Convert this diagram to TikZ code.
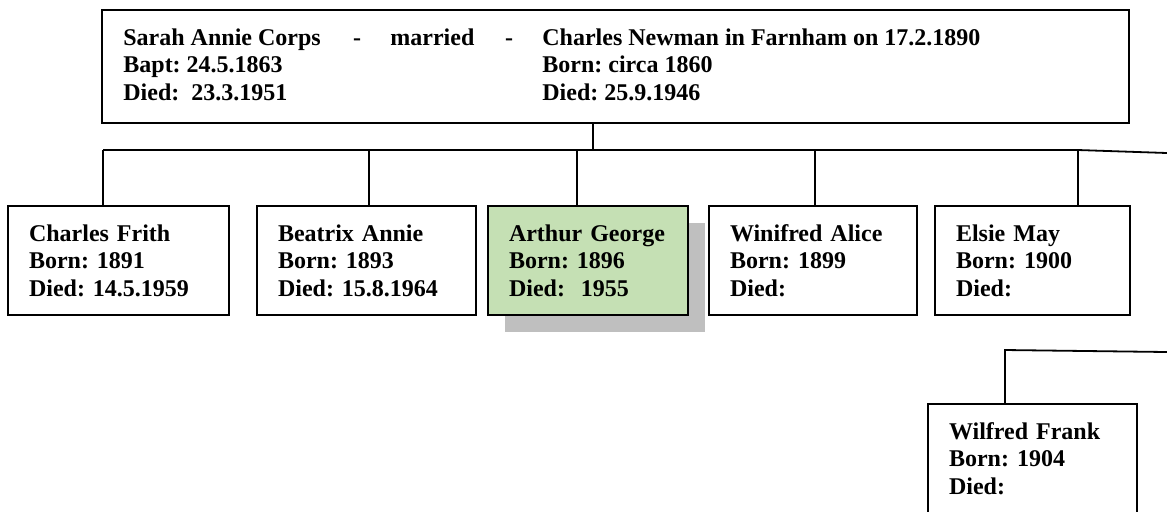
\documentclass[tikz,border=0pt]{standalone}
\usepackage{fontspec}
\setmainfont{Liberation Serif}
\frenchspacing
\definecolor{famgreen}{HTML}{C5E0B4}
\definecolor{famshadow}{HTML}{BFBFBF}
\usetikzlibrary{shadows}

\begin{document}
\begin{tikzpicture}[
  x=0.5pt, y=-0.5pt,
  txt/.style={font=\fontsize{12}{13.75}\selectfont\bfseries, inner sep=0pt},
  person/.style={draw, line width=0.9pt, outer sep=0pt, anchor=north west,
    align=left, text width=#1, inner xsep=10.5pt, inner ysep=0pt,
    minimum height=54.5pt, font=\fontsize{12}{13.75}\selectfont\bfseries},
  link/.style={line width=0.9pt}
]
  \path[use as bounding box, fill=white] (0,0) rectangle (1167,511);

  % Parents
  \node[draw, line width=0.9pt, outer sep=0pt, anchor=north west, inner sep=0pt,
    minimum width=513.5pt, minimum height=56.5pt] (parents) at (102,10) {};
  \node[txt, anchor=north west, align=left] (wife) at (123,28)
    {Sarah Annie Corps\\Bapt: 24.5.1863\\Died:\ \ 23.3.1951};
  \node[txt, anchor=base] (dashA) at (357,45) {-};
  \node[txt, anchor=base west] (married) at (390,45) {married};
  \node[txt, anchor=base] (dashB) at (509,45) {-};
  \node[txt, anchor=north west, align=left] (husband) at (542,28)
    {Charles Newman in Farnham on 17.2.1890\\Born: circa 1860\\Died: 25.9.1946};

  % Children
  \node[person=89.5pt] (charles) at (8,206)
    {Charles Frith\\Born: 1891\\Died: 14.5.1959};
  \node[person=88.5pt] (beatrix) at (257,206)
    {Beatrix Annie\\Born: 1893\\Died: 15.8.1964};
  \node[person=79pt, fill=famgreen,
    drop shadow={shadow xshift=8.25pt, shadow yshift=-8.25pt, fill=famshadow, opacity=1}]
    (arthur) at (488,206)
    {Arthur George\\Born: 1896\\Died:\ \ 1955};
  \node[person=83pt] (winifred) at (709,206)
    {Winifred Alice\\Born: 1899\\Died:};
  \node[person=76.5pt] (elsie) at (935,206)
    {Elsie May\\Born: 1900\\Died:};
  \node[person=83.5pt] (wilfred) at (928,404)
    {Wilfred Frank\\Born: 1904\\Died:};

  % Connectors
  \coordinate (fork) at (593,150);
  \coordinate (barL) at (103,150);
  \coordinate (barR) at (1078,150);
  \coordinate (offR) at (1167,153);
  \coordinate (tB) at (369,150);
  \coordinate (tA) at (577,150);
  \coordinate (tW) at (815,150);
  \coordinate (lowL) at (1005,350);
  \coordinate (offR2) at (1167,352);

  \draw[link] (parents.south -| fork) -- (fork);
  \draw[link] (barL) -- (barR) -- (offR);
  \draw[link] (barL) -- (barL |- charles.north);
  \draw[link] (tB) -- (tB |- beatrix.north);
  \draw[link] (tA) -- (tA |- arthur.north);
  \draw[link] (tW) -- (tW |- winifred.north);
  \draw[link] (barR) -- (barR |- elsie.north);
  \draw[link] (offR2) -- (lowL) -- (lowL |- wilfred.north);
\end{tikzpicture}
\end{document}
